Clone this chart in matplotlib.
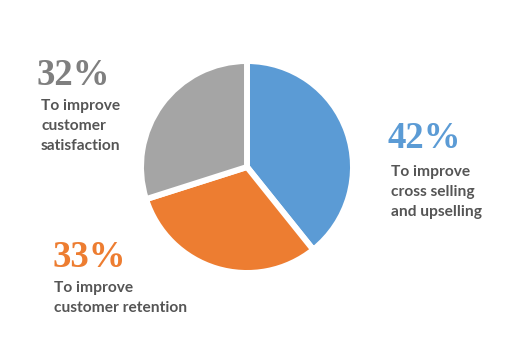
import matplotlib
matplotlib.use("Agg")
import matplotlib.pyplot as plt

values = [42, 33, 32]
pct_labels = ["42%", "33%", "32%"]
desc_labels = ["To improve\ncross selling\nand upselling",
               "To improve\ncustomer retention",
               "To improve\ncustomer\nsatisfaction"]
colors = ["#5B9BD5", "#ED7D31", "#A5A5A5"]
pct_colors = ["#5B9BD5", "#ED7D31", "#7F7F7F"]

W, H = 512, 357
fig = plt.figure(figsize=(W / 100, H / 100), dpi=100)
fig.patch.set_facecolor("white")

cx, cy, R = 247, 167, 106
ax = fig.add_axes([(cx - R) / W, (H - cy - R) / H, 2 * R / W, 2 * R / H])
ax.pie(values, colors=colors, startangle=90, counterclock=False, radius=1,
       wedgeprops=dict(edgecolor="white", linewidth=4.3))
ax.set_xlim(-1, 1)
ax.set_ylim(-1, 1)
ax.set_aspect("equal")
ax.axis("off")

pct_pos = [(387, 148), (52, 267), (37, 85)]
desc_pos = [(391, 165), (54, 281), (41, 99)]

for i in range(3):
    x, y = pct_pos[i]
    fig.text(x / W, 1 - y / H, pct_labels[i], color=pct_colors[i],
             fontsize=26.5, fontweight="bold", family=["Liberation Serif"],
             ha="left", va="baseline")
    x, y = desc_pos[i]
    fig.text(x / W, 1 - y / H, desc_labels[i], color="#555555",
             fontsize=11.2, fontweight="bold", family=["Lato"],
             ha="left", va="top", linespacing=1.55)

fig.savefig("out.png", dpi=100, facecolor="white")
